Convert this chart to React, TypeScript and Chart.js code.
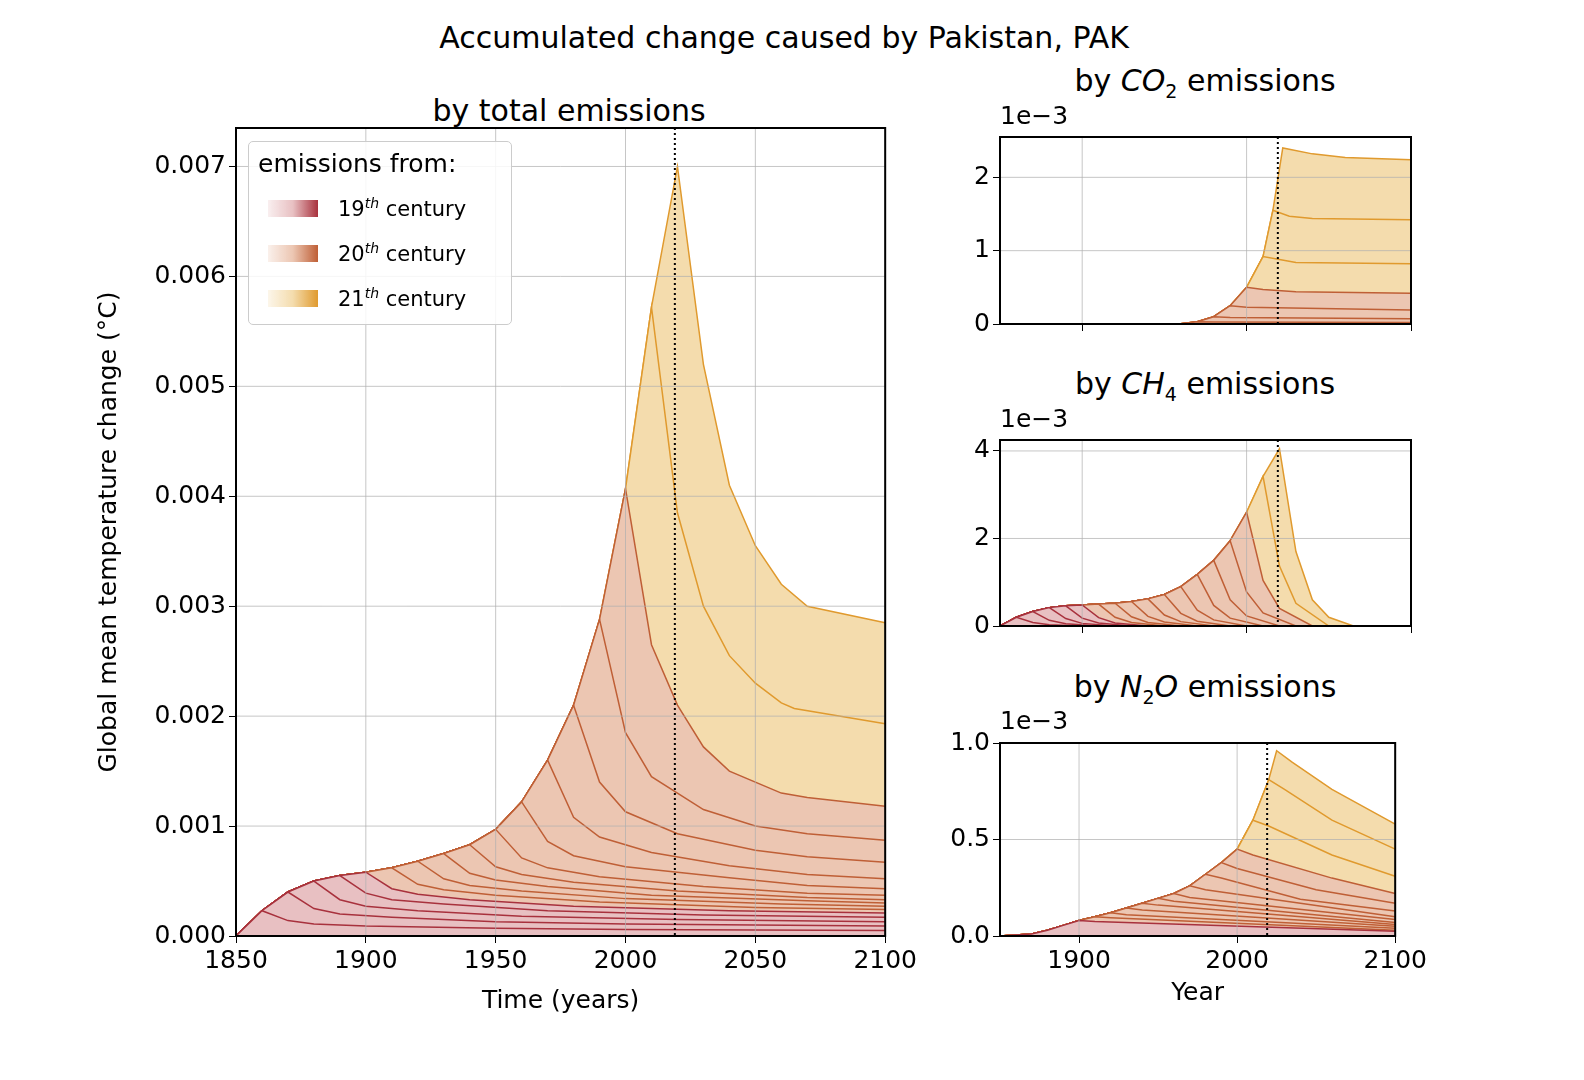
import { useEffect, useRef } from "react";
import { Chart, registerables } from "chart.js";

Chart.register(...registerables);

// ---- data (values in units of 1e-3 °C) ----
const mainEnvYears = [1850, 1860, 1870, 1880, 1890, 1900, 1910, 1920, 1930, 1940, 1950, 1960, 1970, 1980, 1990, 2000, 2010, 2020];
const mainEnvVals = [0, 0.23, 0.4, 0.5, 0.55, 0.58, 0.62, 0.68, 0.75, 0.83, 0.97, 1.22, 1.6, 2.1, 2.88, 4.07, 5.72, 7.0];
const mainDecadeEnds = [1860, 1870, 1880, 1890, 1900, 1910, 1920, 1930, 1940, 1950, 1960, 1970, 1980, 1990, 2000, 2010, 2020];
const mainTails: number[][][] = [
  [[1870, 0.14], [1880, 0.11], [1900, 0.09], [1950, 0.07], [2000, 0.06], [2100, 0.05]],
  [[1880, 0.25], [1890, 0.2], [1910, 0.17], [1950, 0.13], [2000, 0.11], [2100, 0.09]],
  [[1890, 0.33], [1900, 0.27], [1920, 0.23], [1960, 0.18], [2020, 0.15], [2100, 0.13]],
  [[1900, 0.39], [1910, 0.33], [1930, 0.29], [1970, 0.23], [2030, 0.19], [2100, 0.17]],
  [[1910, 0.43], [1920, 0.38], [1940, 0.33], [1980, 0.27], [2040, 0.23], [2100, 0.21]],
  [[1920, 0.47], [1930, 0.42], [1950, 0.37], [1990, 0.31], [2050, 0.26], [2100, 0.24]],
  [[1930, 0.52], [1940, 0.46], [1960, 0.41], [2000, 0.34], [2060, 0.29], [2100, 0.27]],
  [[1940, 0.57], [1950, 0.51], [1970, 0.45], [2010, 0.37], [2070, 0.32], [2100, 0.3]],
  [[1950, 0.63], [1960, 0.56], [1980, 0.49], [2020, 0.41], [2070, 0.35], [2100, 0.33]],
  [[1960, 0.71], [1970, 0.62], [1990, 0.54], [2030, 0.45], [2070, 0.39], [2100, 0.37]],
  [[1970, 0.86], [1980, 0.73], [2000, 0.63], [2040, 0.53], [2070, 0.46], [2100, 0.43]],
  [[1980, 1.08], [1990, 0.9], [2010, 0.76], [2040, 0.64], [2070, 0.56], [2100, 0.52]],
  [[1990, 1.4], [2000, 1.13], [2020, 0.93], [2050, 0.78], [2070, 0.72], [2100, 0.67]],
  [[2000, 1.85], [2010, 1.45], [2030, 1.15], [2050, 1.0], [2070, 0.93], [2100, 0.87]],
  [[2010, 2.65], [2020, 2.1], [2030, 1.72], [2040, 1.5], [2060, 1.3], [2070, 1.26], [2100, 1.18]],
  [[2020, 3.85], [2030, 3.0], [2040, 2.55], [2050, 2.3], [2060, 2.12], [2065, 2.07], [2100, 1.93]],
  [[2030, 5.2], [2040, 4.1], [2050, 3.55], [2060, 3.2], [2070, 3.0], [2100, 2.85]],
];

const co2EnvYears = [1950, 1960, 1970, 1980, 1990, 2000, 2010, 2016, 2022];
const co2EnvVals = [0, 0.005, 0.03, 0.1, 0.25, 0.5, 0.92, 1.55, 2.4];
const co2DecadeEnds = [1970, 1980, 1990, 2000, 2010, 2016, 2022];
const co2Tails: number[][][] = [
  [[1980, 0.028], [2100, 0.02]],
  [[1990, 0.09], [2100, 0.07]],
  [[2000, 0.23], [2100, 0.19]],
  [[2010, 0.47], [2030, 0.44], [2100, 0.42]],
  [[2020, 0.88], [2030, 0.84], [2100, 0.82]],
  [[2026, 1.47], [2040, 1.44], [2100, 1.42]],
  [[2040, 2.32], [2060, 2.27], [2100, 2.24]],
];

const ch4EnvYears = [1850, 1860, 1870, 1880, 1890, 1900, 1910, 1920, 1930, 1940, 1950, 1960, 1970, 1980, 1990, 2000, 2010, 2020];
const ch4EnvVals = [0, 0.2, 0.33, 0.42, 0.46, 0.48, 0.5, 0.52, 0.56, 0.62, 0.72, 0.9, 1.18, 1.5, 1.95, 2.6, 3.42, 4.05];
const ch4DecadeEnds = [1860, 1870, 1880, 1890, 1900, 1910, 1920, 1930, 1940, 1950, 1960, 1970, 1980, 1990, 2000, 2010, 2020];
const ch4Tails: number[][][] = [
  [[1870, 0.08], [1880, 0.03], [1900, 0]],
  [[1880, 0.13], [1890, 0.05], [1910, 0]],
  [[1890, 0.17], [1900, 0.06], [1920, 0]],
  [[1900, 0.18], [1910, 0.07], [1930, 0]],
  [[1910, 0.19], [1920, 0.07], [1940, 0]],
  [[1920, 0.2], [1930, 0.08], [1950, 0]],
  [[1930, 0.21], [1940, 0.08], [1960, 0]],
  [[1940, 0.22], [1950, 0.09], [1970, 0]],
  [[1950, 0.25], [1960, 0.1], [1980, 0]],
  [[1960, 0.29], [1970, 0.11], [1990, 0]],
  [[1970, 0.36], [1980, 0.14], [2000, 0]],
  [[1980, 0.47], [1990, 0.18], [2010, 0]],
  [[1990, 0.6], [2000, 0.23], [2020, 0]],
  [[2000, 0.78], [2010, 0.3], [2030, 0]],
  [[2010, 1.04], [2020, 0.4], [2040, 0]],
  [[2020, 1.37], [2030, 0.52], [2050, 0]],
  [[2030, 1.7], [2040, 0.6], [2050, 0.2], [2065, 0]],
];

const n2oEnvYears = [1850, 1870, 1880, 1890, 1900, 1910, 1920, 1930, 1940, 1950, 1960, 1970, 1980, 1990, 2000, 2010, 2020, 2025];
const n2oEnvVals = [0, 0.01, 0.03, 0.055, 0.08, 0.1, 0.12, 0.145, 0.17, 0.195, 0.22, 0.26, 0.32, 0.38, 0.45, 0.6, 0.81, 0.96];
const n2oDecadeEnds = [1900, 1910, 1920, 1930, 1940, 1950, 1960, 1970, 1980, 1990, 2000, 2010, 2020, 2025];
const n2oTails: number[][][] = [
  [[1910, 0.075], [2100, 0.025]],
  [[1920, 0.095], [2100, 0.03]],
  [[1930, 0.11], [2100, 0.04]],
  [[1940, 0.135], [2100, 0.05]],
  [[1950, 0.16], [2100, 0.06]],
  [[1960, 0.18], [2100, 0.07]],
  [[1970, 0.2], [2100, 0.085]],
  [[1980, 0.24], [2100, 0.1]],
  [[1990, 0.3], [2040, 0.19], [2100, 0.13]],
  [[2000, 0.35], [2050, 0.24], [2100, 0.17]],
  [[2010, 0.42], [2060, 0.3], [2100, 0.22]],
  [[2020, 0.57], [2060, 0.42], [2100, 0.31]],
  [[2030, 0.76], [2060, 0.6], [2100, 0.45]],
  [[2035, 0.9], [2060, 0.76], [2100, 0.58]],
];

const mainYTicks = [0, 1, 2, 3, 4, 5, 6, 7];
const mainXTicks = [1850, 1900, 1950, 2000, 2050, 2100];
const smallXTicks = [1900, 2000, 2100];
const refYear = 2019;

const centuryFill = ["#e8c0c2", "#ecc6b2", "#f4dcad"];
const centuryLine = ["#a8313d", "#bf5f36", "#e09a2e"];
const FONT = "'DejaVu Sans', sans-serif";

function century(end: number) {
  return end <= 1900 ? 0 : end <= 2000 ? 1 : 2;
}

type PanelCfg = {
  envYears: number[];
  envVals: number[];
  ends: number[];
  tails: number[][][];
  yMax: number;
  yTicks: number[];
  fmt: (v: number) => string;
  xTicks: number[];
  xLabels: boolean;
  xTitle?: string;
  yTitle?: string;
  yWidth: number;
  xHeight: number;
  padTop: number;
  padRight: number;
  fontSize: number;
};

function Panel({ cfg, style }: { cfg: PanelCfg; style: any }) {
  const ref = useRef<HTMLCanvasElement>(null);
  const chartRef = useRef<Chart | null>(null);

  useEffect(() => {
    if (!ref.current) return;
    const datasets = cfg.ends.map((end, k) => {
      const pts: { x: number; y: number }[] = [];
      cfg.envYears.forEach((yr, i) => {
        if (yr <= end) pts.push({ x: yr, y: cfg.envVals[i] });
      });
      cfg.tails[k].forEach(([x, y]) => pts.push({ x, y }));
      const c = century(end);
      return {
        data: pts,
        fill: "origin",
        backgroundColor: centuryFill[c],
        borderColor: centuryLine[c],
        borderWidth: 1.5,
        pointRadius: 0,
        tension: 0,
      };
    });

    const overlay = {
      id: "overlay",
      afterDatasetsDraw(chart: Chart) {
        const { ctx, chartArea: a, scales } = chart;
        const xs = scales.x;
        const ys = scales.y;
        ctx.save();
        ctx.strokeStyle = "rgba(176,176,176,0.9)";
        ctx.lineWidth = 0.8;
        cfg.xTicks.forEach((v) => {
          const px = xs.getPixelForValue(v);
          ctx.beginPath();
          ctx.moveTo(px, a.top);
          ctx.lineTo(px, a.bottom);
          ctx.stroke();
        });
        cfg.yTicks.forEach((v) => {
          const py = ys.getPixelForValue(v);
          ctx.beginPath();
          ctx.moveTo(a.left, py);
          ctx.lineTo(a.right, py);
          ctx.stroke();
        });
        const rx = xs.getPixelForValue(refYear);
        ctx.strokeStyle = "#000";
        ctx.lineWidth = 2;
        ctx.setLineDash([2, 3]);
        ctx.beginPath();
        ctx.moveTo(rx, a.top);
        ctx.lineTo(rx, a.bottom);
        ctx.stroke();
        ctx.setLineDash([]);
        ctx.lineWidth = 2;
        ctx.strokeRect(a.left, a.top, a.right - a.left, a.bottom - a.top);
        ctx.restore();
      },
    };

    chartRef.current?.destroy();
    chartRef.current = new Chart(ref.current, {
      type: "line",
      data: { datasets: datasets as any },
      plugins: [overlay],
      options: {
        animation: false,
        responsive: false,
        layout: { padding: { top: cfg.padTop, right: cfg.padRight, left: 0, bottom: 0 } },
        plugins: { legend: { display: false }, tooltip: { enabled: false } },
        scales: {
          x: {
            type: "linear",
            min: 1850,
            max: 2100,
            afterBuildTicks: (s: any) => {
              s.ticks = cfg.xTicks.map((v) => ({ value: v }));
            },
            afterFit: (s: any) => {
              s.height = cfg.xHeight;
            },
            grid: { drawOnChartArea: false, color: "#000", tickLength: 7 },
            border: { display: false },
            ticks: {
              display: cfg.xLabels,
              color: "#000",
              font: { family: FONT, size: cfg.fontSize },
              maxRotation: 0,
              callback: (v: any) => String(v),
            },
            title: {
              display: !!cfg.xTitle,
              text: cfg.xTitle || "",
              color: "#000",
              font: { family: FONT, size: cfg.fontSize },
              padding: { top: 0 },
            },
          },
          y: {
            min: 0,
            max: cfg.yMax,
            afterBuildTicks: (s: any) => {
              s.ticks = cfg.yTicks.map((v) => ({ value: v }));
            },
            afterFit: (s: any) => {
              s.width = cfg.yWidth;
            },
            grid: { drawOnChartArea: false, color: "#000", tickLength: 7 },
            border: { display: false },
            ticks: {
              color: "#000",
              font: { family: FONT, size: cfg.fontSize },
              callback: (v: any) => cfg.fmt(Number(v)),
            },
            title: {
              display: !!cfg.yTitle,
              text: cfg.yTitle || "",
              color: "#000",
              font: { family: FONT, size: cfg.fontSize },
            },
          },
        },
      },
    });
    return () => {
      chartRef.current?.destroy();
      chartRef.current = null;
    };
  }, []);

  return (
    <canvas
      ref={ref}
      width={style.width}
      height={style.height}
      style={{ position: "absolute", ...style }}
    />
  );
}

const txt = (x: number, y: number, size: number, content: any, align = "center") => (
  <div
    style={{
      position: "absolute",
      left: x,
      top: y,
      transform: align === "center" ? "translate(-50%, -50%)" : "translate(0, -50%)",
      fontSize: size,
      fontFamily: FONT,
      whiteSpace: "nowrap",
      color: "#000",
    }}
  >
    {content}
  </div>
);

export default function App() {
  const mainCfg: PanelCfg = {
    envYears: mainEnvYears,
    envVals: mainEnvVals,
    ends: mainDecadeEnds,
    tails: mainTails,
    yMax: 7.35,
    yTicks: mainYTicks,
    fmt: (v) => (v / 1000).toFixed(3),
    xTicks: mainXTicks,
    xLabels: true,
    xTitle: "Time (years)",
    yTitle: "Global mean temperature change (°C)",
    yWidth: 146,
    xHeight: 84,
    padTop: 38,
    padRight: 17,
    fontSize: 25,
  };
  const small = (envYears: number[], envVals: number[], ends: number[], tails: number[][][], yMax: number, yTicks: number[], fmt: (v: number) => string, bottom: boolean): PanelCfg => ({
    envYears, envVals, ends, tails, yMax, yTicks, fmt,
    xTicks: smallXTicks,
    xLabels: bottom,
    xTitle: bottom ? "Year" : undefined,
    yWidth: 70,
    xHeight: bottom ? 76 : 12,
    padTop: 10,
    padRight: 19,
    fontSize: 25,
  });
  const grad = (c: number) =>
    `linear-gradient(to right, ${centuryFill[c]}40, ${centuryFill[c]}, ${centuryLine[c]})`;
  const legendRow = (y: number, c: number, n: string) => (
    <>
      <div style={{ position: "absolute", left: 268, top: y - 8, width: 50, height: 17, background: grad(c) }} />
      {txt(338, y, 21, <span>{n}<sup style={{ fontSize: 14, fontStyle: "italic" }}>th</sup> century</span>, "left")}
    </>
  );
  return (
    <div style={{ position: "absolute", left: 0, top: 0, width: 1584, height: 1080, background: "#fff", overflow: "hidden" }}>
      {txt(784, 37, 30, "Accumulated change caused by Pakistan, PAK")}
      {txt(569, 110, 30, "by total emissions")}
      {txt(1205, 82, 30, <span>by <i>CO</i><sub style={{ fontSize: 19 }}>2</sub> emissions</span>)}
      {txt(1205, 385, 30, <span>by <i>CH</i><sub style={{ fontSize: 19 }}>4</sub> emissions</span>)}
      {txt(1205, 688, 30, <span>by <i>N</i><sub style={{ fontSize: 19 }}>2</sub><i>O</i> emissions</span>)}
      <Panel cfg={mainCfg} style={{ left: 90, top: 90, width: 830, height: 930 }} />
      <Panel cfg={small(co2EnvYears, co2EnvVals, co2DecadeEnds, co2Tails, 2.55, [0, 1, 2], (v) => String(v), false)} style={{ left: 930, top: 119, width: 500, height: 223 }} />
      <Panel cfg={small(ch4EnvYears, ch4EnvVals, ch4DecadeEnds, ch4Tails, 4.25, [0, 2, 4], (v) => String(v), false)} style={{ left: 930, top: 422, width: 500, height: 222 }} />
      <Panel cfg={small(n2oEnvYears, n2oEnvVals, n2oDecadeEnds, n2oTails, 1.0, [0, 0.5, 1.0], (v) => v.toFixed(1), true)} style={{ left: 930, top: 725, width: 500, height: 287 }} />
      {txt(1000, 115, 25, "1e\u22123", "left")}
      {txt(1000, 418, 25, "1e\u22123", "left")}
      {txt(1000, 720, 25, "1e\u22123", "left")}
      <div style={{ position: "absolute", left: 248, top: 141, width: 264, height: 184, background: "rgba(255,255,255,0.85)", border: "1px solid #ccc", borderRadius: 5, boxSizing: "border-box" }} />
      {txt(258, 163, 25, "emissions from:", "left")}
      {legendRow(208, 0, "19")}
      {legendRow(253, 1, "20")}
      {legendRow(298, 2, "21")}
    </div>
  );
}
